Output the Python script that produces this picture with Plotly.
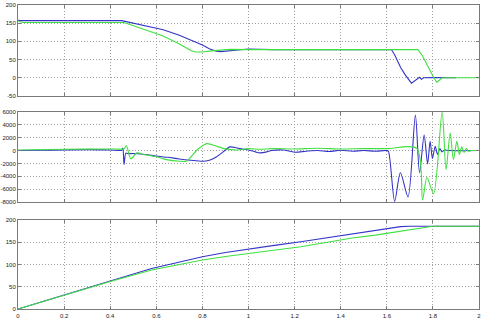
import plotly.graph_objects as go

# ---- Panel 1 (top) ----
p1_blue_t = [0, 0.01, 0.45, 0.54, 0.63, 0.7, 0.76, 0.8, 0.83, 0.86, 0.88, 0.91, 0.95, 1.0, 1.05, 1.1,
             1.62, 1.635, 1.66, 1.68, 1.707, 1.725, 1.742, 1.75, 1.76, 1.8, 1.85, 1.9]
p1_blue_v = [158, 157, 157, 145, 132, 117, 101, 90, 80, 73, 72, 74, 77, 79, 78.5, 77.5,
             77.5, 62, 28, 8, -14.7, -5, 1.5, -4, 0, 0.5, 0, 0]
p1_green_t = [0, 0.02, 0.46, 0.55, 0.63, 0.7, 0.75, 0.77, 0.8, 0.84, 0.88, 0.92, 1.0,
              1.735, 1.755, 1.78, 1.80, 1.817, 1.83, 1.84, 2.0]
p1_green_v = [156, 152, 152, 133, 115, 93, 75, 71, 71, 74, 77, 78, 77.5,
              77.5, 60, 27, 5, -13, -5, 0, 0]

# ---- Panel 2 (middle) ----
p2_blue_t = [0, 0.1, 0.2, 0.3, 0.4, 0.45, 0.455, 0.46, 0.468, 0.48, 0.5, 0.55, 0.6, 0.65, 0.7, 0.75,
             0.8, 0.83, 0.86, 0.89, 0.92, 0.95, 0.98, 1.0, 1.03, 1.05, 1.08, 1.1, 1.15, 1.2, 1.25,
             1.3, 1.35, 1.4, 1.45, 1.5, 1.55, 1.6, 1.607, 1.634, 1.659, 1.692, 1.724, 1.742,
             1.762, 1.777, 1.788, 1.798, 1.81, 1.82, 1.83, 1.84, 1.85, 1.87, 2.0]
p2_blue_v = [0, 50, 100, 150, 100, 50, 400, -2150, -400, -500, -450, -600, -850, -1050, -1300, -1500,
             -1650, -1500, -1000, -200, 570, 400, 200, 100, -200, -360, -200, 0, 100, -250, -100,
             0, -150, 50, -100, 0, -100, 0, -100, -7900, -3450, -7200, 5540, -3450,
             2400, -2050, 1450, -1230, 670, -600, 300, -200, 100, 0, 0]
p2_green_t = [0, 0.2, 0.4, 0.46, 0.47, 0.49, 0.515, 0.55, 0.6, 0.65, 0.7, 0.73, 0.75, 0.78, 0.82,
              0.86, 0.9, 0.95, 1.0, 1.05, 1.1, 1.2, 1.3, 1.4, 1.5, 1.6, 1.73, 1.755, 1.774, 1.803,
              1.84, 1.857, 1.875, 1.889, 1.904, 1.915, 1.925, 1.935, 1.945, 1.955, 1.965, 2.0]
p2_green_v = [100, 200, 250, 300, 750, -1290, -360, -650, -950, -1450, -1650, -1650, -1000, 200, 1080,
              700, 260, 100, 300, 200, 300, 250, 350, 250, 300, 300, 350, -7700, -4200, -6700,
              6000, -2950, 2740, -1400, 1450, -600, 600, -300, 300, -100, 0, 0]

# ---- Panel 3 (bottom) ----
p3_blue_t = [0, 0.2, 0.4, 0.58, 0.7, 0.8, 0.9, 1.01, 1.12, 1.227, 1.33, 1.443, 1.55, 1.62, 1.66, 1.7, 2.0]
p3_blue_v = [0, 32, 63, 91, 106, 117.5, 127, 136, 143.5, 151, 159, 168.5, 177, 182, 185, 186, 186]
p3_green_t = [0, 0.2, 0.4, 0.58, 0.7, 0.8, 0.9, 1.01, 1.12, 1.227, 1.33, 1.443, 1.55, 1.65, 1.75, 1.8, 2.0]
p3_green_v = [0, 31.5, 62, 87.5, 100, 110, 118, 125, 132.5, 140, 149, 159, 166, 174, 182, 186, 186]

x_ticks = [0, 0.2, 0.4, 0.6, 0.8, 1.0, 1.2, 1.4, 1.6, 1.8, 2.0]
x_labels = ["0", "0.2", "0.4", "0.6", "0.8", "1", "1.2", "1.4", "1.6", "1.8", "2"]
y1_ticks = [-50, 0, 50, 100, 150, 200]
y1_labels = ["-50", "0", "50", "100", "150", "200"]
y2_ticks = [-8000, -6000, -4000, -2000, 0, 2000, 4000, 6000]
y2_labels = ["-8000", "-6000", "-4000", "-2000", "0", "2000", "4000", "6000"]
y3_ticks = [0, 50, 100, 150, 200]
y3_labels = ["0", "50", "100", "150", "200"]

BLUE = "#3434c8"
GREEN = "#3ee03e"

fig = go.Figure()
fig.add_trace(go.Scatter(x=p1_blue_t, y=p1_blue_v, mode="lines", line=dict(color=BLUE, width=1.1), xaxis="x", yaxis="y"))
fig.add_trace(go.Scatter(x=p1_green_t, y=p1_green_v, mode="lines", line=dict(color=GREEN, width=1.1), xaxis="x", yaxis="y"))
fig.add_trace(go.Scatter(x=p2_blue_t, y=p2_blue_v, mode="lines", line=dict(color=BLUE, width=1.1, shape="spline", smoothing=0.8), xaxis="x2", yaxis="y2"))
fig.add_trace(go.Scatter(x=p2_green_t, y=p2_green_v, mode="lines", line=dict(color=GREEN, width=1.1, shape="spline", smoothing=0.8), xaxis="x2", yaxis="y2"))
fig.add_trace(go.Scatter(x=p3_blue_t, y=p3_blue_v, mode="lines", line=dict(color=BLUE, width=1.1), xaxis="x3", yaxis="y3"))
fig.add_trace(go.Scatter(x=p3_green_t, y=p3_green_v, mode="lines", line=dict(color=GREEN, width=1.1), xaxis="x3", yaxis="y3"))

tickfont = dict(family="Liberation Sans, Arial", size=6, color="#202020")
common = dict(showline=True, mirror="ticks", linecolor="#7a7a7a", linewidth=1,
              ticks="inside", ticklen=3, tickcolor="#7a7a7a",
              showgrid=True, gridcolor="#a0a0a0", griddash="1px,2px", gridwidth=1,
              zeroline=False, tickfont=tickfont, automargin=False)

def xax(anchor, show):
    return dict(range=[0, 2], tickvals=x_ticks, ticktext=x_labels, anchor=anchor,
                showticklabels=show, domain=[0, 1], ticklabelstandoff=1, **common)

fig.update_layout(
    width=486, height=320, showlegend=False,
    margin=dict(l=18, r=7, t=5, b=11),
    paper_bgcolor="white", plot_bgcolor="white",
    xaxis=xax("y", False), xaxis2=xax("y2", False), xaxis3=xax("y3", True),
    yaxis=dict(range=[-50, 200], tickvals=y1_ticks, ticktext=y1_labels, domain=[0.7007, 1.0], anchor="x", ticklabelstandoff=0, **common),
    yaxis2=dict(range=[-8000, 6000], tickvals=y2_ticks, ticktext=y2_labels, domain=[0.352, 0.648], anchor="x2", ticklabelstandoff=0, **common),
    yaxis3=dict(range=[0, 200], tickvals=y3_ticks, ticktext=y3_labels, domain=[0, 0.2928], anchor="x3", ticklabelstandoff=0, **common),
)

fig.write_html("out.html")
